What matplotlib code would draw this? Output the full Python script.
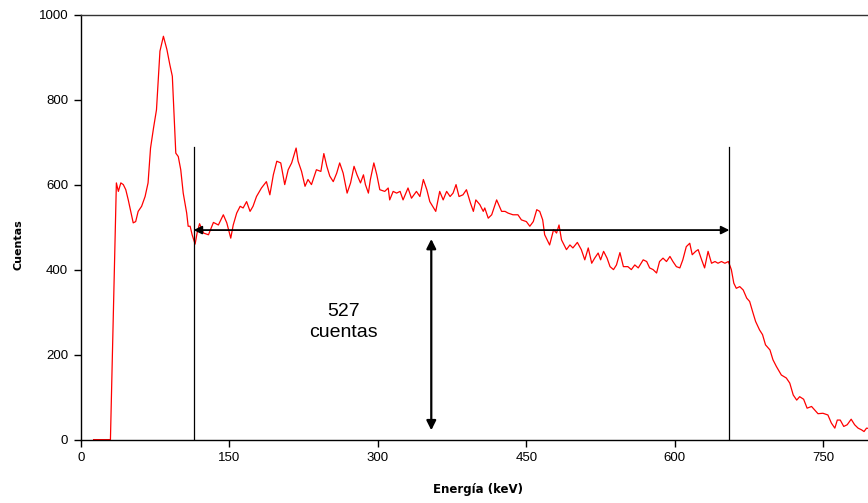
import matplotlib
matplotlib.use("Agg")
import matplotlib.pyplot as plt

# ---------- data ----------
energy = [13, 30, 36, 38, 40.5, 43, 45.5, 48, 50.5, 53, 55.5, 58, 61.5, 65, 68,
          70.5, 73.5, 76.5, 80, 83.5, 87, 90, 92.5, 94, 96, 98.5, 101, 103.5,
          107, 108.5, 110.5, 112.5, 115.5, 117.5, 120, 124, 129, 134, 139, 144,
          147.5, 151.5, 154, 157.5, 161, 164, 167.5, 171, 174, 177.5, 182.5,
          187.5, 191, 194.5, 198, 202, 206, 209.5, 213, 217.5, 219.5, 223,
          226.5, 229.5, 233, 238, 242.5, 245.5, 248.5, 251.5, 255, 258.5,
          261.5, 265, 269, 272.5, 276, 279, 282.5, 285.5, 287.5, 290.5, 292.5,
          296, 299, 302, 307, 310.5, 312, 315.5, 319, 322.5, 325.5, 330.5,
          334, 339, 342.5, 346, 349.5, 352.5, 358.5, 362.5, 366, 369.5, 373,
          376, 379, 382, 386, 389.5, 393.5, 396.5, 399, 403, 406.5, 408, 411.5,
          415, 420, 425, 428.5, 431.5, 436.5, 441.5, 445, 450, 453.5, 457,
          460.5, 463.5, 466.5, 468.5, 473.5, 477.5, 480.5, 483, 485.5, 490.5,
          494, 497, 501.5, 505.5, 509, 512.5, 516, 519, 522.5, 525, 528,
          531.5, 534.5, 538, 541, 544.5, 548, 552.5, 556, 559.5, 563, 568,
          571.5, 574.5, 578, 581.5, 584.5, 588, 591.5, 595, 598, 601.5, 605,
          608, 611.5, 615, 617.5, 621, 623.5, 627, 630, 633.5, 637, 640.5,
          643.5, 647, 650.5, 654, 657, 659.5, 662, 665.5, 669, 672.5, 675.5,
          678.5, 681.5, 685.5, 688.5, 691.5, 696, 699, 702.5, 707.5, 712.5,
          716, 719.5, 723, 726, 730, 733.5, 738, 741, 744.5, 749.5, 754.5,
          758, 761.5, 764, 767, 770.5, 774, 778, 781.5, 785, 788.5, 791,
          793.5, 800]
counts = [0, 0, 604, 584, 604, 600, 588, 564, 537, 510, 513, 537, 549, 572, 604,
          686, 733, 776, 914, 949, 918, 882, 855, 776, 674, 666, 635, 580,
          533, 502, 502, 482, 460, 486, 508, 486, 482, 511, 505, 529,
          510, 474, 505, 533, 549, 545, 560, 537, 549, 572, 592,
          607, 576, 623, 655, 651, 600, 635, 651, 686, 655, 631,
          596, 612, 600, 635, 631, 673, 643, 620, 607, 627,
          651, 627, 580, 604, 643, 623, 604, 623, 600, 580, 612,
          651, 623, 588, 584, 592, 564, 584, 580, 584, 564, 592,
          568, 584, 572, 612, 588, 560, 537, 584, 564, 584, 572,
          580, 600, 572, 576, 588, 557, 537, 564, 553, 537, 545, 521,
          529, 564, 537, 537, 533, 529, 529, 517, 513, 502, 513,
          541, 537, 517, 482, 458, 494, 486, 505, 470, 447,
          458, 451, 464, 447, 423, 451, 415, 427, 439, 423, 443,
          427, 407, 400, 411, 440, 407, 407, 400, 411, 404, 423,
          419, 404, 400, 392, 419, 427, 419, 431, 419, 407, 404,
          423, 454, 462, 435, 443, 447, 423, 404, 443, 415, 419,
          415, 419, 415, 419, 400, 368, 356, 360, 352, 333, 325,
          301, 278, 258, 247, 223, 211, 188, 172, 152, 145,
          133, 105, 93, 101, 95, 74, 78, 70, 61, 62, 58,
          39, 27, 46, 46, 31, 35, 48, 35, 27, 23, 19,
          27, 25]

x_ticks = [0, 150, 300, 450, 600, 750]
y_ticks = [0, 200, 400, 600, 800, 1000]

window = [114, 655]      # integration window (keV)
window_top = 689
level = 493              # mean level of the plateau
level_arrow_x = 354
label_text = "527\ncuentas"

# ---------- plotting ----------
fig = plt.figure(figsize=(8.68, 5.03), dpi=100)
ax = fig.add_axes([0.093, 0.126, 0.907, 0.845])

ax.plot(energy, counts, color="#ff0000", linewidth=0.9)

# vertical window limits
for xv in window:
    ax.plot([xv, xv], [0, window_top], color="black", linewidth=0.9)

# horizontal double arrow across window
ax.annotate("", xy=(window[0], level), xytext=(window[1], level),
            arrowprops=dict(arrowstyle="<|-|>", color="black", lw=1.3,
                            mutation_scale=12, shrinkA=0, shrinkB=0))
# vertical double arrow showing level
ax.annotate("", xy=(level_arrow_x, 22), xytext=(level_arrow_x, 472),
            arrowprops=dict(arrowstyle="<|-|>", color="black", lw=1.6,
                            mutation_scale=14, shrinkA=0, shrinkB=0))

ax.text(265, 277, label_text, ha="center", va="center", fontsize=14,
        family="Liberation Sans", linespacing=1.3)

ax.set_xlim(0, 795)
ax.set_ylim(0, 1000)
ax.set_xticks(x_ticks)
ax.set_yticks(y_ticks)
ax.tick_params(direction="out", length=5, width=1, labelsize=9.5, pad=4)
for lab in ax.get_xticklabels() + ax.get_yticklabels():
    lab.set_family("Liberation Sans")

ax.spines["right"].set_visible(False)
for s in ["left", "bottom", "top"]:
    ax.spines[s].set_linewidth(1.0)
ax.spines["top"].set_color("#333333")

fig.text(478 / 868, 1 - 490 / 503, "Energía (keV)", ha="center", va="center",
         fontsize=8.5, fontweight="bold")
fig.text(18 / 868, 1 - 245 / 503, "Cuentas", ha="center", va="center",
         rotation=90, fontsize=8, fontweight="bold")

fig.savefig("out.png", dpi=100)
